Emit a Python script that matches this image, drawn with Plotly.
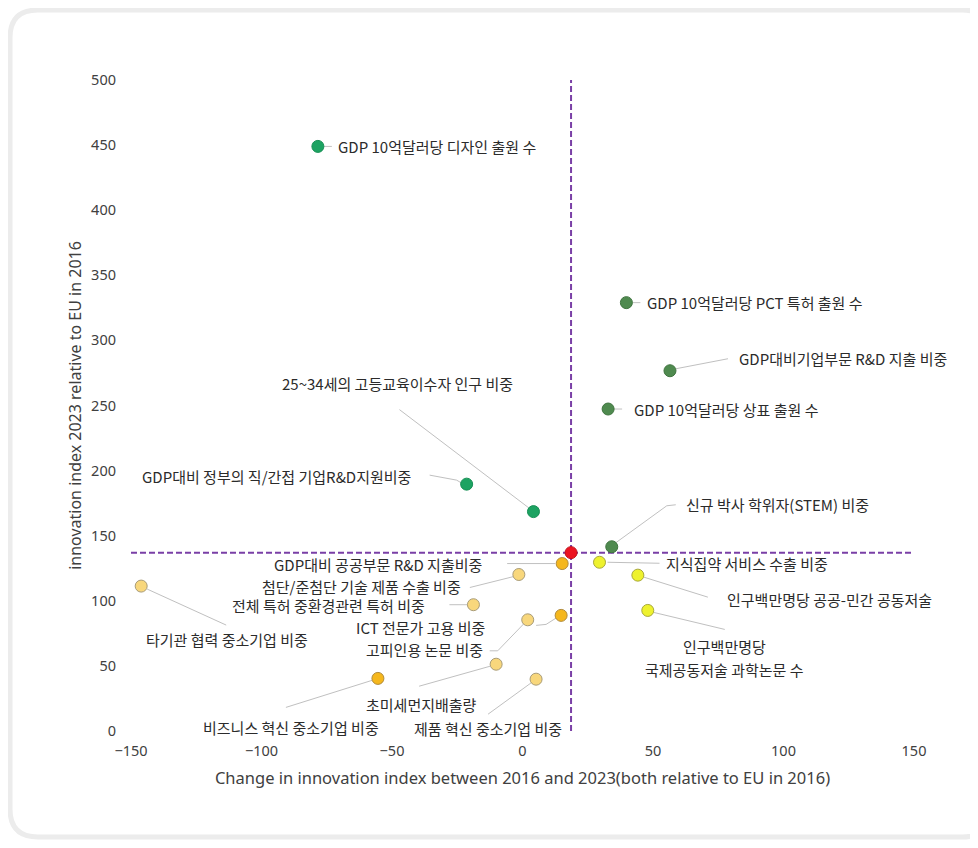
import plotly.graph_objects as go

# ---------------- data ----------------
names = [
    "GDP 10억달러당 디자인 출원 수",
    "GDP대비 정부의 직/간접 기업R&D지원비중",
    "25~34세의 고등교육이수자 인구 비중",
    "GDP 10억달러당 PCT 특허 출원 수",
    "GDP대비기업부문 R&D 지출 비중",
    "GDP 10억달러당 상표 출원 수",
    "신규 박사 학위자(STEM) 비중",
    "지식집약 서비스 수출 비중",
    "인구백만명당 공공-민간 공동저술",
    "인구백만명당\n국제공동저술 과학논문 수",
    "GDP대비 공공부문 R&D 지출비중",
    "첨단/준첨단 기술 제품 수출 비중",
    "전체 특허 중환경관련 특허 비중",
    "ICT 전문가 고용 비중",
    "고피인용 논문 비중",
    "타기관 협력 중소기업 비중",
    "비즈니스 혁신 중소기업 비중",
    "초미세먼지배출량",
    "제품 혁신 중소기업 비중",
]
x_change = [-78.4, -21.4, 4.2, 39.8, 56.5, 32.8, 34.2, 29.5, 44.2, 48.0,
            15.2, -1.4, -18.8, 14.8, 2.0, -146.1, -55.4, -10.1, 5.2]
y_index = [449, 189.6, 168.5, 329, 276.7, 247.3, 141.5, 129.6, 119.7, 92.6,
           128.6, 120.2, 97.0, 88.8, 85.4, 111.3, 40.4, 51.3, 39.8]
groups = ["g1", "g1", "g1", "g2", "g2", "g2", "g2", "y1", "y1", "y1",
          "o1", "c1", "c1", "o1", "c1", "c1", "o1", "c1", "c1"]

ref_x = [18.6]
ref_y = [137.0]

x_ticks = [-150, -100, -50, 0, 50, 100, 150]
y_ticks = [0, 50, 100, 150, 200, 250, 300, 350, 400, 450, 500]

x_title = "Change in innovation index between 2016 and 2023(both relative to EU in 2016)"
y_title = "innovation index 2023 relative to EU in 2016"

# ---------------- style / layout ----------------
OFF = 8  # page body margin
W, H = 978 - 2 * OFF, 848 - 2 * OFF
PLOT_W, PLOT_H = 783, 651
ML, MT = 131 - OFF, 80 - OFF
MR, MB = W - ML - PLOT_W, H - MT - PLOT_H
XR = [-150, 150]
YR = [0, 500]
KX = PLOT_W / (XR[1] - XR[0])
KY = PLOT_H / (YR[1] - YR[0])

group_style = {
    "g1": dict(color="#1da362", line="#179055"),
    "g2": dict(color="#4f8a4f", line="#3f743f"),
    "y1": dict(color="#eef22e", line="#a8a83a"),
    "o1": dict(color="#f5b71c", line="#b08a3a"),
    "c1": dict(color="#f8d77c", line="#a99c78"),
}

# label placement: (dx, dy, xanchor, leader polyline offsets) in pixels from the point
label_layout = [
    (19, 0, "left", [(6, 0), (14, 0)]),
    (-55, -8, "right", [(-37, -9), (-10, -4), (-5, -1)]),
    (-136, -128, "center", [(-134, -102), (-5, -4)]),
    (20, 0, "left", [(6, 0), (14, 0)]),
    (68, -12, "left", [(6, -2), (58, -12)]),
    (25, 0, "left", [(6, 0), (14, 0)]),
    (73, -42, "left", [(64, -42), (55, -41), (4, -4)]),
    (65, 1, "left", [(8, 0), (60, 1)]),
    (88, 24, "left", [(6, 2), (70, 22)]),
    (77, 36, "center", [(6, 2), (77, 19)]),
    (-79, 1, "right", [(-55, 0), (-7, 0)]),
    (-57, 12, "right", [(-49, 13), (-5, 2)]),
    (-47, 1, "right", [(-24, 0), (-6, 0)]),
    (-75, 12, "right", [(-25, 10), (-15, 9), (-4, 2)]),
    (-44, 30, "right", [(-38, 31), (-30, 31), (-3, 3)]),
    (86, 53, "center", [(6, 3), (85, 39)]),
    (-87, 49, "center", [(-92, 29), (-6, 2)]),
    (-75, 40, "center", [(-77, 22), (-6, 2)]),
    (-48, 49, "center", [(-48, 35), (-4, 3)]),
]
LINE_GAP = 23

fig = go.Figure()

# leader lines
lx, ly = [], []
for xv, yv, lay in zip(x_change, y_index, label_layout):
    for (ox, oy) in lay[3]:
        lx.append(xv + ox / KX)
        ly.append(yv - oy / KY)
    lx.append(None)
    ly.append(None)
fig.add_trace(go.Scatter(x=lx, y=ly, mode="lines", line=dict(color="#c0c0c0", width=1),
                         hoverinfo="skip", showlegend=False, cliponaxis=False))

# points by group
for g, st in group_style.items():
    idx = [i for i, gg in enumerate(groups) if gg == g]
    fig.add_trace(go.Scatter(
        x=[x_change[i] for i in idx], y=[y_index[i] for i in idx],
        mode="markers", showlegend=False, cliponaxis=False,
        text=[names[i].replace("\n", " ") for i in idx], hoverinfo="text+x+y",
        marker=dict(size=12, color=st["color"], line=dict(color=st["line"], width=1)),
    ))

# reference lines
dash_line = dict(color="#7a3fa6", width=2, dash="6px,3px")
fig.add_shape(type="line", xref="x", yref="y", x0=ref_x[0], x1=ref_x[0], y0=YR[0], y1=YR[1], line=dash_line, layer="below")
fig.add_shape(type="line", xref="x", yref="y", x0=XR[0], x1=XR[1], y0=ref_y[0], y1=ref_y[0], line=dash_line, layer="below")

fig.add_trace(go.Scatter(x=ref_x, y=ref_y, mode="markers", showlegend=False,
                         marker=dict(size=12, color="#ec1422", line=dict(color="#c01018", width=1))))

# labels
label_font = dict(family="Noto Sans CJK KR", size=15, color="#2b2b2b")
for name, xv, yv, lay in zip(names, x_change, y_index, label_layout):
    dx, dy, xa, _ = lay
    for k, line in enumerate(name.split("\n")):
        fig.add_annotation(x=xv, y=yv, xref="x", yref="y", text=line, showarrow=False,
                           xanchor=xa, yanchor="middle", xshift=dx, yshift=-(dy + k * LINE_GAP),
                           font=label_font, borderpad=0)

# card frame (page pixel coordinates -> paper)
def px2paper(px, py):
    return (px - OFF - ML) / PLOT_W, (MT + PLOT_H - (py - OFF)) / PLOT_H

def rounded_path(x0, y0, x1, y1, r):
    def P(a, b):
        u, v = px2paper(a, b)
        return f"{u:.5f},{v:.5f}"
    d = f"M {P(x0 + r, y0)} L {P(x1 - r, y0)} Q {P(x1, y0)} {P(x1, y0 + r)} "
    d += f"L {P(x1, y1 - r)} Q {P(x1, y1)} {P(x1 - r, y1)} "
    d += f"L {P(x0 + r, y1)} Q {P(x0, y1)} {P(x0, y1 - r)} "
    d += f"L {P(x0, y0 + r)} Q {P(x0, y0)} {P(x0 + r, y0)} Z"
    return d

fig.add_shape(type="path", xref="paper", yref="paper",
              path=rounded_path(10, 10, 990, 837, 28),
              line=dict(color="#ececec", width=5), fillcolor="rgba(0,0,0,0)", layer="below")

axis_font = dict(family="Noto Sans", size=14.5, color="#404040")
title_font = dict(family="Noto Sans", size=16.5, color="#404040")
fig.update_layout(
    width=W, height=H,
    margin=dict(l=ML, r=MR, t=MT, b=MB),
    paper_bgcolor="white", plot_bgcolor="white",
    font=dict(family="Noto Sans", color="#404040"),
    xaxis=dict(range=XR, tickvals=x_ticks, showgrid=False, zeroline=False, showline=False,
               ticks="", tickfont=axis_font, ticklabelstandoff=9,
               title=dict(text=x_title, font=title_font, standoff=13)),
    yaxis=dict(range=YR, tickvals=y_ticks, showgrid=False, zeroline=False, showline=False,
               ticks="", tickfont=axis_font, ticklabelstandoff=14,
               title=dict(text=y_title, font=dict(family="Noto Sans", size=16, color="#404040"), standoff=5)),
)

fig.write_html("out.html")
